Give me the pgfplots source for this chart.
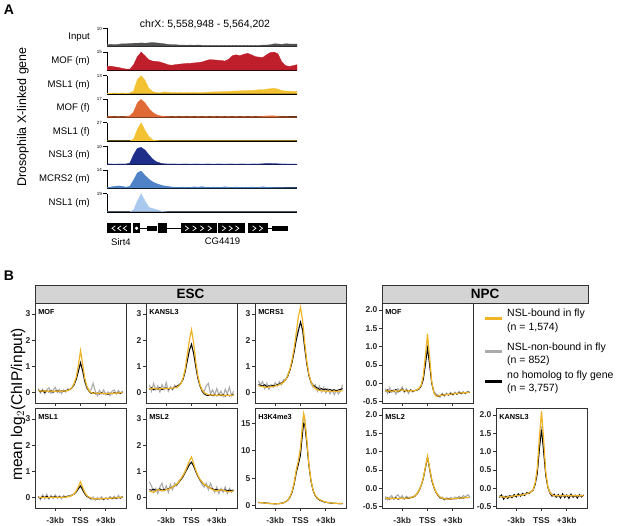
\documentclass[border=0pt]{standalone}
\usepackage{fontspec}
\setmainfont{Liberation Sans}
\usepackage{pgfplots}
\usepackage{pgfplotstable}
\pgfplotsset{compat=1.18}

\definecolor{gold}{HTML}{EFB526}
\definecolor{lgray}{HTML}{ABABAB}
\definecolor{cinp}{HTML}{505050}
\definecolor{cmofm}{HTML}{BF1F2B}
\definecolor{cmsl}{HTML}{F2C232}
\definecolor{cmoff}{HTML}{E06A35}
\definecolor{cnsl3}{HTML}{1F2E88}
\definecolor{cmcrs}{HTML}{4F82C6}
\definecolor{cnsl1}{HTML}{A9C9EE}

% ---- panel A: browser tracks (fraction of the track maximum) ----
\pgfplotstableread{
x inp mofm msl1m moff msl1f nsl3 mcrs2 nsl1
0 0.10 0.20 0.03 0.04 0.00 0.03 0.04 0.00
2 0.12 0.22 0.03 0.05 0.00 0.03 0.06 0.00
4 0.10 0.18 0.04 0.04 0.00 0.02 0.10 0.00
6 0.12 0.15 0.03 0.05 0.00 0.03 0.12 0.00
8 0.15 0.10 0.04 0.04 0.00 0.03 0.10 0.00
10 0.15 0.06 0.03 0.05 0.00 0.03 0.05 0.00
12 0.16 0.05 0.04 0.08 0.00 0.08 0.10 0.00
14 0.18 0.30 0.15 0.30 0.10 0.55 0.45 0.10
16 0.18 0.75 0.80 0.80 0.65 0.90 0.85 0.60
18 0.20 1.00 1.00 1.00 1.00 0.95 0.95 1.00
20 0.18 0.80 0.75 0.80 0.60 0.80 0.70 0.60
22 0.20 0.58 0.30 0.50 0.25 0.55 0.50 0.25
24 0.22 0.50 0.12 0.28 0.06 0.30 0.35 0.18
26 0.20 0.48 0.06 0.14 0.02 0.15 0.25 0.12
28 0.18 0.45 0.05 0.08 0.01 0.08 0.18 0.05
30 0.15 0.38 0.10 0.06 0.01 0.04 0.12 0.01
32 0.12 0.30 0.09 0.05 0.01 0.03 0.10 0.00
34 0.10 0.27 0.06 0.04 0.01 0.03 0.06 0.00
36 0.10 0.30 0.06 0.05 0.01 0.03 0.05 0.00
38 0.08 0.33 0.07 0.04 0.01 0.02 0.04 0.00
40 0.08 0.35 0.06 0.05 0.01 0.03 0.06 0.00
42 0.07 0.37 0.07 0.04 0.01 0.03 0.04 0.00
44 0.08 0.38 0.06 0.05 0.01 0.02 0.05 0.00
46 0.07 0.40 0.07 0.04 0.01 0.03 0.07 0.00
48 0.08 0.42 0.06 0.05 0.01 0.03 0.05 0.00
50 0.07 0.45 0.07 0.04 0.01 0.02 0.08 0.00
52 0.06 0.52 0.08 0.05 0.01 0.03 0.05 0.00
54 0.07 0.58 0.09 0.04 0.01 0.03 0.04 0.00
56 0.06 0.57 0.10 0.05 0.01 0.02 0.06 0.00
58 0.07 0.55 0.10 0.04 0.01 0.03 0.04 0.00
60 0.06 0.54 0.11 0.05 0.01 0.03 0.05 0.00
62 0.07 0.50 0.12 0.04 0.01 0.02 0.07 0.00
64 0.06 0.60 0.13 0.05 0.01 0.03 0.05 0.00
66 0.07 0.80 0.14 0.04 0.01 0.03 0.04 0.00
68 0.06 0.85 0.15 0.05 0.01 0.02 0.06 0.00
70 0.07 0.80 0.16 0.04 0.01 0.03 0.04 0.00
72 0.06 0.88 0.17 0.05 0.01 0.03 0.05 0.00
74 0.07 0.93 0.18 0.04 0.01 0.02 0.04 0.00
76 0.06 0.85 0.18 0.05 0.01 0.03 0.06 0.00
78 0.07 0.75 0.20 0.04 0.01 0.03 0.04 0.00
80 0.06 0.72 0.22 0.05 0.01 0.03 0.05 0.00
82 0.08 0.70 0.22 0.06 0.01 0.04 0.07 0.00
84 0.08 0.85 0.25 0.07 0.01 0.06 0.05 0.00
86 0.10 0.98 0.28 0.08 0.01 0.06 0.04 0.00
88 0.15 1.00 0.30 0.08 0.01 0.05 0.03 0.00
90 0.14 0.90 0.25 0.05 0.01 0.04 0.03 0.00
92 0.12 0.45 0.18 0.04 0.01 0.03 0.03 0.00
94 0.15 0.25 0.15 0.04 0.01 0.03 0.02 0.00
96 0.14 0.20 0.14 0.03 0.01 0.02 0.02 0.00
98 0.13 0.25 0.13 0.03 0.01 0.02 0.02 0.00
100 0.14 0.30 0.12 0.03 0.01 0.02 0.02 0.00
}\tracks

% ---- panel B: profiles, y = NSL-bound, k = no homolog, g = NSL-non-bound ----
\pgfplotstableread{
x y k g
-5 0.08 0.10 0.15
-4.75 0.06 0.03 -0.02
-4.5 0.05 0.08 0.12
-4.25 0.07 0.00 -0.05
-4 0.04 0.06 0.10
-3.75 0.05 0.02 0.18
-3.5 0.06 0.09 -0.03
-3.25 0.04 0.01 0.08
-3 0.05 0.05 0.20
-2.75 0.06 0.08 0.00
-2.5 0.05 0.02 0.12
-2.25 0.04 0.06 -0.04
-2 0.06 0.04 0.10
-1.75 0.06 0.07 0.02
-1.5 0.08 0.10 0.14
-1.25 0.12 0.12 0.10
-1 0.20 0.18 0.20
-0.75 0.35 0.30 0.32
-0.5 0.60 0.50 0.55
-0.25 1.05 0.80 0.85
0 1.60 1.15 1.10
0.25 1.10 0.85 0.80
0.5 0.55 0.45 0.40
0.75 0.25 0.20 0.15
1 0.08 0.05 0.10
1.25 0.00 -0.03 0.10
1.5 -0.03 0.00 0.35
1.75 -0.02 -0.05 0.05
2 -0.03 -0.02 -0.12
2.25 -0.02 -0.06 0.08
2.5 -0.04 -0.01 -0.05
2.75 -0.03 -0.05 0.10
3 -0.05 -0.03 -0.08
3.25 -0.04 -0.07 0.02
3.5 -0.03 -0.02 -0.12
3.75 -0.04 -0.05 0.05
4 -0.02 0.00 0.10
4.25 -0.03 -0.04 -0.06
4.5 -0.02 -0.01 0.08
4.75 0.00 -0.03 -0.04
5 0.00 0.02 0.06
}\escMOF

\pgfplotstableread{
x y k g
-5 0.15 0.12 0.30
-4.75 0.14 0.18 0.05
-4.5 0.16 0.10 0.35
-4.25 0.15 0.16 0.10
-4 0.13 0.12 0.25
-3.75 0.15 0.19 0.02
-3.5 0.16 0.11 0.30
-3.25 0.14 0.15 0.12
-3 0.15 0.18 0.38
-2.75 0.16 0.13 0.05
-2.5 0.15 0.16 0.22
-2.25 0.17 0.14 0.10
-2 0.18 0.20 0.28
-1.75 0.20 0.24 0.18
-1.5 0.25 0.28 0.30
-1.25 0.35 0.36 0.35
-1 0.55 0.50 0.52
-0.75 0.90 0.80 0.82
-0.5 1.45 1.20 1.25
-0.25 2.00 1.60 1.65
0 2.40 1.85 1.80
0.25 1.90 1.50 1.50
0.5 1.20 1.00 1.00
0.75 0.65 0.55 0.55
1 0.30 0.25 0.28
1.25 0.10 0.05 0.10
1.5 0.00 -0.05 0.05
1.75 -0.05 -0.10 0.25
2 -0.08 -0.12 0.35
2.25 -0.10 -0.08 -0.05
2.5 -0.09 -0.12 0.10
2.75 -0.10 -0.09 -0.10
3 -0.11 -0.13 0.15
3.25 -0.10 -0.07 -0.08
3.5 -0.09 -0.12 0.05
3.75 -0.11 -0.08 -0.15
4 -0.10 -0.14 0.12
4.25 -0.12 -0.09 -0.05
4.5 -0.10 -0.13 0.20
4.75 -0.11 -0.10 -0.12
5 -0.10 -0.08 0.05
}\escKANSL

\pgfplotstableread{
x y k g
-5 0.25 0.30 0.45
-4.75 0.24 0.28 0.30
-4.5 0.22 0.25 0.42
-4.25 0.21 0.30 0.15
-4 0.20 0.22 0.35
-3.75 0.21 0.26 0.12
-3.5 0.22 0.24 0.30
-3.25 0.23 0.28 0.20
-3 0.25 0.26 0.38
-2.75 0.27 0.30 0.25
-2.5 0.30 0.33 0.42
-2.25 0.34 0.36 0.30
-2 0.40 0.42 0.50
-1.75 0.50 0.50 0.48
-1.5 0.65 0.62 0.70
-1.25 0.90 0.85 0.90
-1 1.25 1.15 1.20
-0.75 1.70 1.55 1.60
-0.5 2.30 2.00 2.10
-0.25 2.90 2.35 2.45
0 3.25 2.70 2.65
0.25 2.75 2.40 2.35
0.5 1.90 1.70 1.70
0.75 1.20 1.10 1.05
1 0.70 0.65 0.65
1.25 0.40 0.40 0.35
1.5 0.25 0.28 0.20
1.75 0.15 0.22 0.30
2 0.10 0.18 0.05
2.25 0.08 0.12 0.25
2.5 0.07 0.15 0.02
2.75 0.06 0.10 0.20
3 0.05 0.14 -0.02
3.25 0.06 0.08 0.15
3.5 0.05 0.12 -0.05
3.75 0.04 0.07 0.10
4 0.05 0.11 -0.08
4.25 0.04 0.06 0.08
4.5 0.05 0.10 -0.05
4.75 0.06 0.12 0.05
5 0.08 0.15 0.30
}\escMCRS

\pgfplotstableread{
x y k g
-5 0.00 0.02 0.05
-4.75 0.01 -0.03 -0.08
-4.5 0.00 0.04 0.10
-4.25 0.01 0.00 -0.05
-4 -0.01 0.05 0.12
-3.75 0.00 -0.02 -0.06
-3.5 0.01 0.03 0.08
-3.25 0.00 0.01 -0.04
-3 0.01 0.04 0.10
-2.75 0.00 -0.01 -0.02
-2.5 0.01 0.03 0.06
-2.25 0.00 0.00 -0.05
-2 0.01 0.02 0.08
-1.75 0.02 0.04 0.00
-1.5 0.03 0.05 0.06
-1.25 0.05 0.06 0.05
-1 0.08 0.09 0.10
-0.75 0.14 0.14 0.12
-0.5 0.25 0.22 0.20
-0.25 0.42 0.34 0.32
0 0.60 0.45 0.42
0.25 0.40 0.30 0.28
0.5 0.20 0.15 0.14
0.75 0.08 0.05 0.04
1 0.02 0.00 0.00
1.25 -0.02 -0.03 -0.08
1.5 -0.04 -0.05 0.02
1.75 -0.05 -0.04 -0.10
2 -0.05 -0.06 0.00
2.25 -0.04 -0.03 -0.08
2.5 -0.05 -0.05 0.03
2.75 -0.04 -0.06 -0.09
3 -0.04 -0.03 0.00
3.25 -0.03 -0.05 -0.07
3.5 -0.03 -0.02 0.04
3.75 -0.02 -0.04 -0.06
4 -0.02 -0.01 0.05
4.25 -0.01 -0.03 -0.04
4.5 0.00 0.00 0.08
4.75 0.01 -0.02 -0.03
5 0.02 0.03 0.06
}\escMSLone

\pgfplotstableread{
x y k g
-5 0.25 0.30 0.60
-4.75 0.22 0.28 0.45
-4.5 0.20 0.32 0.20
-4.25 0.25 0.27 0.35
-4 0.30 0.30 0.15
-3.75 0.28 0.33 0.40
-3.5 0.25 0.28 0.55
-3.25 0.27 0.31 0.25
-3 0.30 0.30 0.45
-2.75 0.32 0.34 0.20
-2.5 0.35 0.36 0.50
-2.25 0.40 0.40 0.30
-2 0.45 0.44 0.55
-1.75 0.52 0.50 0.45
-1.5 0.60 0.58 0.65
-1.25 0.72 0.68 0.70
-1 0.85 0.80 0.85
-0.75 1.00 0.95 1.00
-0.5 1.20 1.10 1.15
-0.25 1.40 1.25 1.30
0 1.55 1.35 1.35
0.25 1.30 1.20 1.20
0.5 1.05 1.00 1.00
0.75 0.85 0.82 0.80
1 0.70 0.68 0.65
1.25 0.60 0.58 0.50
1.5 0.50 0.50 0.40
1.75 0.45 0.45 0.55
2 0.40 0.40 0.30
2.25 0.35 0.36 0.55
2.5 0.30 0.33 0.35
2.75 0.28 0.30 0.20
3 0.25 0.30 0.40
3.25 0.27 0.28 0.15
3.5 0.30 0.30 0.35
3.75 0.28 0.27 0.20
4 0.25 0.29 0.40
4.25 0.23 0.26 0.15
4.5 0.22 0.28 0.35
4.75 0.24 0.27 0.20
5 0.25 0.28 0.30
}\escMSLtwo

\pgfplotstableread{
x y k g
-5 0.55 0.58 0.52
-4.5 0.50 0.52 0.47
-4 0.42 0.45 0.40
-3.5 0.35 0.38 0.32
-3 0.30 0.34 0.27
-2.5 0.35 0.38 0.32
-2 0.50 0.52 0.48
-1.75 0.70 0.70 0.68
-1.5 1.00 0.98 0.98
-1.25 1.60 1.50 1.55
-1 2.60 2.40 2.50
-0.75 4.20 3.90 4.10
-0.5 6.50 6.00 6.30
-0.25 8.20 7.50 8.00
0 10.5 9.20 10.2
0.25 15.0 13.2 14.6
0.375 16.8 15.0 16.3
0.5 16.0 14.8 15.6
0.75 12.0 11.2 11.8
1 7.50 7.20 7.40
1.25 4.50 4.40 4.45
1.5 2.80 2.70 2.75
1.75 1.90 1.80 1.85
2 1.40 1.30 1.35
2.25 1.10 1.00 1.05
2.5 0.90 0.82 0.86
2.75 0.75 0.68 0.72
3 0.62 0.58 0.60
3.5 0.50 0.47 0.48
4 0.42 0.40 0.41
4.5 0.38 0.36 0.37
5 0.35 0.34 0.35
}\escHK

\pgfplotstableread{
x y k g
-5 -0.20 -0.22 -0.15
-4.75 -0.22 -0.18 -0.28
-4.5 -0.20 -0.25 -0.12
-4.25 -0.23 -0.20 -0.25
-4 -0.21 -0.22 -0.18
-3.75 -0.20 -0.17 -0.30
-3.5 -0.22 -0.24 -0.15
-3.25 -0.19 -0.20 -0.22
-3 -0.18 -0.16 -0.10
-2.75 -0.20 -0.22 -0.25
-2.5 -0.21 -0.19 -0.15
-2.25 -0.22 -0.23 -0.28
-2 -0.20 -0.18 -0.18
-1.75 -0.21 -0.22 -0.24
-1.5 -0.20 -0.20 -0.20
-1.25 -0.18 -0.19 -0.18
-1 -0.14 -0.16 -0.15
-0.75 -0.05 -0.08 -0.06
-0.5 0.20 0.10 0.12
-0.25 0.75 0.50 0.55
0 1.35 0.95 0.98
0.25 0.70 0.50 0.52
0.5 0.05 0.00 0.02
0.75 -0.25 -0.25 -0.22
1 -0.35 -0.33 -0.30
1.25 -0.35 -0.36 -0.32
1.5 -0.33 -0.34 -0.38
1.75 -0.32 -0.30 -0.28
2 -0.32 -0.33 -0.36
2.25 -0.31 -0.30 -0.27
2.5 -0.30 -0.32 -0.33
2.75 -0.30 -0.28 -0.25
3 -0.29 -0.31 -0.32
3.25 -0.28 -0.27 -0.24
3.5 -0.28 -0.30 -0.30
3.75 -0.27 -0.26 -0.22
4 -0.27 -0.29 -0.28
4.25 -0.26 -0.25 -0.23
4.5 -0.26 -0.27 -0.29
4.75 -0.25 -0.24 -0.22
5 -0.25 -0.26 -0.24
}\npcMOF

\pgfplotstableread{
x y k g
-5 -0.28 -0.30 -0.22
-4.75 -0.27 -0.26 -0.32
-4.5 -0.29 -0.30 -0.25
-4.25 -0.28 -0.27 -0.20
-4 -0.27 -0.29 -0.30
-3.75 -0.28 -0.26 -0.22
-3.5 -0.29 -0.30 -0.18
-3.25 -0.27 -0.28 -0.27
-3 -0.28 -0.27 -0.20
-2.75 -0.28 -0.29 -0.30
-2.5 -0.27 -0.26 -0.22
-2.25 -0.27 -0.28 -0.26
-2 -0.26 -0.26 -0.24
-1.75 -0.24 -0.25 -0.23
-1.5 -0.21 -0.22 -0.20
-1.25 -0.15 -0.16 -0.14
-1 -0.06 -0.07 -0.05
-0.75 0.08 0.07 0.08
-0.5 0.28 0.26 0.27
-0.25 0.58 0.55 0.56
0 0.88 0.85 0.85
0.25 0.55 0.52 0.53
0.5 0.25 0.22 0.23
0.75 0.04 0.02 0.03
1 -0.10 -0.11 -0.10
1.25 -0.19 -0.20 -0.18
1.5 -0.24 -0.25 -0.28
1.75 -0.27 -0.28 -0.24
2 -0.29 -0.30 -0.32
2.25 -0.29 -0.28 -0.26
2.5 -0.30 -0.29 -0.31
2.75 -0.29 -0.30 -0.25
3 -0.29 -0.28 -0.30
3.25 -0.28 -0.29 -0.24
3.5 -0.28 -0.27 -0.29
3.75 -0.27 -0.28 -0.22
4 -0.27 -0.26 -0.27
4.25 -0.26 -0.27 -0.20
4.5 -0.26 -0.25 -0.24
4.75 -0.25 -0.26 -0.18
5 -0.25 -0.24 -0.22
}\npcMSL

\pgfplotstableread{
x y k g
-5 -0.22 -0.25 -0.20
-4.75 -0.23 -0.18 -0.24
-4.5 -0.24 -0.30 -0.22
-4.25 -0.25 -0.22 -0.26
-4 -0.24 -0.28 -0.21
-3.75 -0.23 -0.20 -0.25
-3.5 -0.22 -0.26 -0.20
-3.25 -0.21 -0.17 -0.23
-3 -0.20 -0.24 -0.19
-2.75 -0.20 -0.15 -0.21
-2.5 -0.19 -0.22 -0.18
-2.25 -0.18 -0.14 -0.20
-2 -0.17 -0.20 -0.16
-1.75 -0.15 -0.12 -0.15
-1.5 -0.13 -0.15 -0.12
-1.25 -0.10 -0.10 -0.09
-1 -0.05 -0.06 -0.04
-0.75 0.15 0.10 0.12
-0.5 0.55 0.40 0.45
-0.25 1.40 1.05 1.15
0 2.10 1.60 1.70
0.25 1.35 1.00 1.05
0.5 0.45 0.35 0.38
0.75 0.05 0.02 0.05
1 -0.12 -0.14 -0.10
1.25 -0.18 -0.22 -0.16
1.5 -0.20 -0.16 -0.22
1.75 -0.21 -0.25 -0.19
2 -0.20 -0.17 -0.22
2.25 -0.21 -0.27 -0.20
2.5 -0.20 -0.15 -0.23
2.75 -0.21 -0.26 -0.19
3 -0.20 -0.18 -0.21
3.25 -0.21 -0.28 -0.20
3.5 -0.20 -0.16 -0.22
3.75 -0.21 -0.25 -0.19
4 -0.20 -0.19 -0.21
4.25 -0.21 -0.27 -0.20
4.5 -0.20 -0.17 -0.22
4.75 -0.21 -0.24 -0.19
5 -0.20 -0.18 -0.21
}\npcKANSL

\pgfplotsset{
  track/.style={scale only axis, width=190pt, height=18pt, anchor=south west,
    xmin=0, xmax=100, ymin=0, ymax=1,
    axis x line*=bottom, axis y line*=left,
    x axis line style={-, line width=1.7pt}, y axis line style={-, line width=0.8pt},
    xtick=\empty, ytick={1}, tick align=outside, major tick length=4pt,
    tick style={line width=0.8pt, black},
    yticklabel style={font=\fontsize{4.5}{5}\selectfont, inner sep=1pt},
    clip mode=individual},
  prof/.style={scale only axis, width=91pt, height=100pt, anchor=south west,
    xmin=-5.4, xmax=5.4, xtick={-3,0,3}, xticklabels={,,},
    tick align=outside, major tick length=3pt,
    xtick pos=bottom, ytick pos=left,
    axis line style={draw=black!80, line width=0.8pt},
    tick style={black!80, line width=0.7pt},
    tick label style={font=\fontsize{8.5}{9}\selectfont\bfseries, text=black!85},
    /pgf/number format/assume math mode=true,
    xticklabel style={yshift=-3pt},
    yticklabel style={xshift=2pt},
    clip mode=individual},
  esc/.style={prof, ymin=-0.4, ymax=3.42, ytick={0,1,2,3}},
  npc/.style={prof, ymin=-0.54, ymax=2.19, ytick={-0.5,0,0.5,1,1.5,2},
    yticklabel style={/pgf/number format/.cd, fixed, fixed zerofill, precision=1}},
  lab/.style={xticklabels={-3kb,TSS,+3kb}},
}

\newcommand{\track}[5]{%
\begin{axis}[track, at={(107pt,#1)}, yticklabels={#4}]
\addplot[fill=#3, draw=#3, line width=0.3pt] table[x=x,y=#2]{\tracks} \closedcycle;
\node[anchor=east, xshift=-17pt, inner sep=0pt, font=\fontsize{9.6}{11}\selectfont] at (rel axis cs:0,0.5) {#5};
\end{axis}}

\newcommand{\threelines}[1]{%
\addplot[lgray, line width=1.1pt] table[x=x,y=g]{#1};
\addplot[black, line width=0.9pt] table[x=x,y=k]{#1};
\addplot[gold, line width=1.2pt] table[x=x,y=y]{#1};}

\newcommand{\pname}[1]{\node[anchor=north west, inner sep=0pt, font=\fontsize{7.3}{8}\selectfont\bfseries] at (rel axis cs:0.035,0.935) {#1};}

\begin{document}
\begin{tikzpicture}
% ---------------- A ----------------
\node[font=\fontsize{14}{14}\selectfont\bfseries] at (9pt,516pt) {A};
\node[font=\fontsize{10.5}{12}\selectfont] at (205pt,502pt) {chrX: 5,558,948 - 5,564,202};
\node[rotate=90, font=\fontsize{12.5}{14}\selectfont] at (23pt,409pt) {Drosophila X-linked gene};

\track{479.5pt}{inp}{cinp}{10}{Input}
\track{455.9pt}{mofm}{cmofm}{15}{MOF (m)}
\track{432.3pt}{msl1m}{cmsl}{13}{MSL1 (m)}
\track{408.7pt}{moff}{cmoff}{17}{MOF (f)}
\track{385.1pt}{msl1f}{cmsl}{27}{MSL1 (f)}
\track{361.5pt}{nsl3}{cnsl3}{10}{NSL3 (m)}
\track{337.9pt}{mcrs2}{cmcrs}{14}{MCRS2 (m)}
\track{314.3pt}{nsl1}{cnsl1}{19}{NSL1 (m)}

% gene model
\begin{axis}[at={(107pt,291.7pt)}, anchor=south west, scale only axis, width=190pt, height=12pt,
  xmin=0, xmax=100, ymin=-1.2, ymax=1.2, hide axis, clip=false, unbounded coords=jump]
\addplot[black, line width=1pt] coordinates {(17.4,0) (20.9,0)};
\addplot[black, line width=1pt] coordinates {(31.4,0) (38.8,0)};
\addplot[black, line width=1pt] coordinates {(84.7,0) (86.7,0)};
\addplot[fill=black, draw=none] coordinates {(0,-1) (12.5,-1) (12.5,1) (0,1)} --cycle;
\addplot[fill=black, draw=none] coordinates {(13.5,-1) (17.4,-1) (17.4,1) (13.5,1)} --cycle;
\addplot[fill=black, draw=none] coordinates {(20.9,-0.55) (26.1,-0.55) (26.1,0.55) (20.9,0.55)} --cycle;
\addplot[fill=black, draw=none] coordinates {(26.9,-1) (31.4,-1) (31.4,1) (26.9,1)} --cycle;
\addplot[fill=black, draw=none] coordinates {(38.8,-1) (57.7,-1) (57.7,1) (38.8,1)} --cycle;
\addplot[fill=black, draw=none] coordinates {(58.6,-1) (72.6,-1) (72.6,1) (58.6,1)} --cycle;
\addplot[fill=black, draw=none] coordinates {(74.2,-1) (84.7,-1) (84.7,1) (74.2,1)} --cycle;
\addplot[fill=black, draw=none] coordinates {(86.7,-0.55) (95.4,-0.55) (95.4,0.55) (86.7,0.55)} --cycle;
\addplot[white, line width=0.7pt] coordinates {
 (4.4,0.5) (2.6,0) (4.4,-0.5) (0,nan)
 (7.4,0.5) (5.6,0) (7.4,-0.5) (0,nan)
 (10.4,0.5) (8.6,0) (10.4,-0.5) (0,nan)
 (41.1,0.5) (42.9,0) (41.1,-0.5) (0,nan)
 (45.1,0.5) (46.9,0) (45.1,-0.5) (0,nan)
 (49.1,0.5) (50.9,0) (49.1,-0.5) (0,nan)
 (53.1,0.5) (54.9,0) (53.1,-0.5) (0,nan)
 (60.6,0.5) (62.4,0) (60.6,-0.5) (0,nan)
 (64.1,0.5) (65.9,0) (64.1,-0.5) (0,nan)
 (67.6,0.5) (69.4,0) (67.6,-0.5) (0,nan)
 (76.6,0.5) (78.4,0) (76.6,-0.5) (0,nan)
 (80.1,0.5) (81.9,0) (80.1,-0.5)};
\addplot[only marks, mark=*, mark size=1.5pt, mark options={fill=white, draw=white}] coordinates {(15.6,0)};
\end{axis}
\node[anchor=west, inner sep=0pt, font=\fontsize{9.5}{11}\selectfont] at (111pt,284.3pt) {Sirt4};
\node[inner sep=0pt, font=\fontsize{9.5}{11}\selectfont] at (222.5pt,284.3pt) {CG4419};

% ---------------- B ----------------
\node[font=\fontsize{14}{14}\selectfont\bfseries] at (9pt,250pt) {B};
\node[rotate=90, font=\fontsize{15.5}{17}\selectfont] at (18pt,121.5pt) {mean log$_2$(ChIP/input)};

\draw[fill=black!17, draw=black!80, line width=0.8pt] (35pt,223pt) rectangle (346pt,241pt);
\node[font=\fontsize{13.5}{14}\selectfont\bfseries] at (190.5pt,232pt) {ESC};
\draw[fill=black!17, draw=black!80, line width=0.8pt] (382pt,223pt) rectangle (588pt,241pt);
\node[font=\fontsize{13.5}{14}\selectfont\bfseries] at (485pt,232pt) {NPC};

\begin{axis}[esc, at={(35pt,123pt)}] \threelines{\escMOF} \pname{MOF} \end{axis}
\begin{axis}[esc, at={(146pt,123pt)}] \threelines{\escKANSL} \pname{KANSL3} \end{axis}
\begin{axis}[esc, at={(255pt,123pt)}] \threelines{\escMCRS} \pname{MCRS1} \end{axis}
\begin{axis}[esc, lab, at={(35pt,18pt)}] \threelines{\escMSLone} \pname{MSL1} \end{axis}
\begin{axis}[esc, lab, at={(146pt,18pt)}] \threelines{\escMSLtwo} \pname{MSL2} \end{axis}
\begin{axis}[prof, lab, at={(255pt,18pt)}, ymin=-0.45, ymax=17.8, ytick={0,5,10,15}] \threelines{\escHK} \pname{H3K4me3} \end{axis}

\begin{axis}[npc, at={(382pt,123pt)}] \threelines{\npcMOF} \pname{MOF} \end{axis}
\begin{axis}[npc, lab, at={(382pt,18pt)}] \threelines{\npcMSL} \pname{MSL2} \end{axis}
\begin{axis}[npc, lab, at={(496pt,18pt)}] \threelines{\npcKANSL} \pname{KANSL3} \end{axis}

% legend
\draw[gold, line width=3pt] (485pt,207pt) -- (502pt,207pt);
\draw[lgray, line width=3pt] (485pt,174pt) -- (502pt,174pt);
\draw[black, line width=3pt] (485pt,144pt) -- (502pt,144pt);
\begin{scope}[every node/.style={anchor=west, inner sep=0pt, font=\fontsize{10.5}{12}\selectfont}]
\node at (507pt,212pt) {NSL-bound in fly};
\node at (507pt,198pt) {(n = 1,574)};
\node at (507pt,178pt) {NSL-non-bound in fly};
\node at (507pt,165pt) {(n = 852)};
\node at (507pt,150pt) {no homolog to fly gene};
\node at (507pt,137pt) {(n = 3,757)};
\end{scope}

\pgfresetboundingbox
\path (0pt,0pt) rectangle (617pt,526pt);
\end{tikzpicture}
\end{document}
